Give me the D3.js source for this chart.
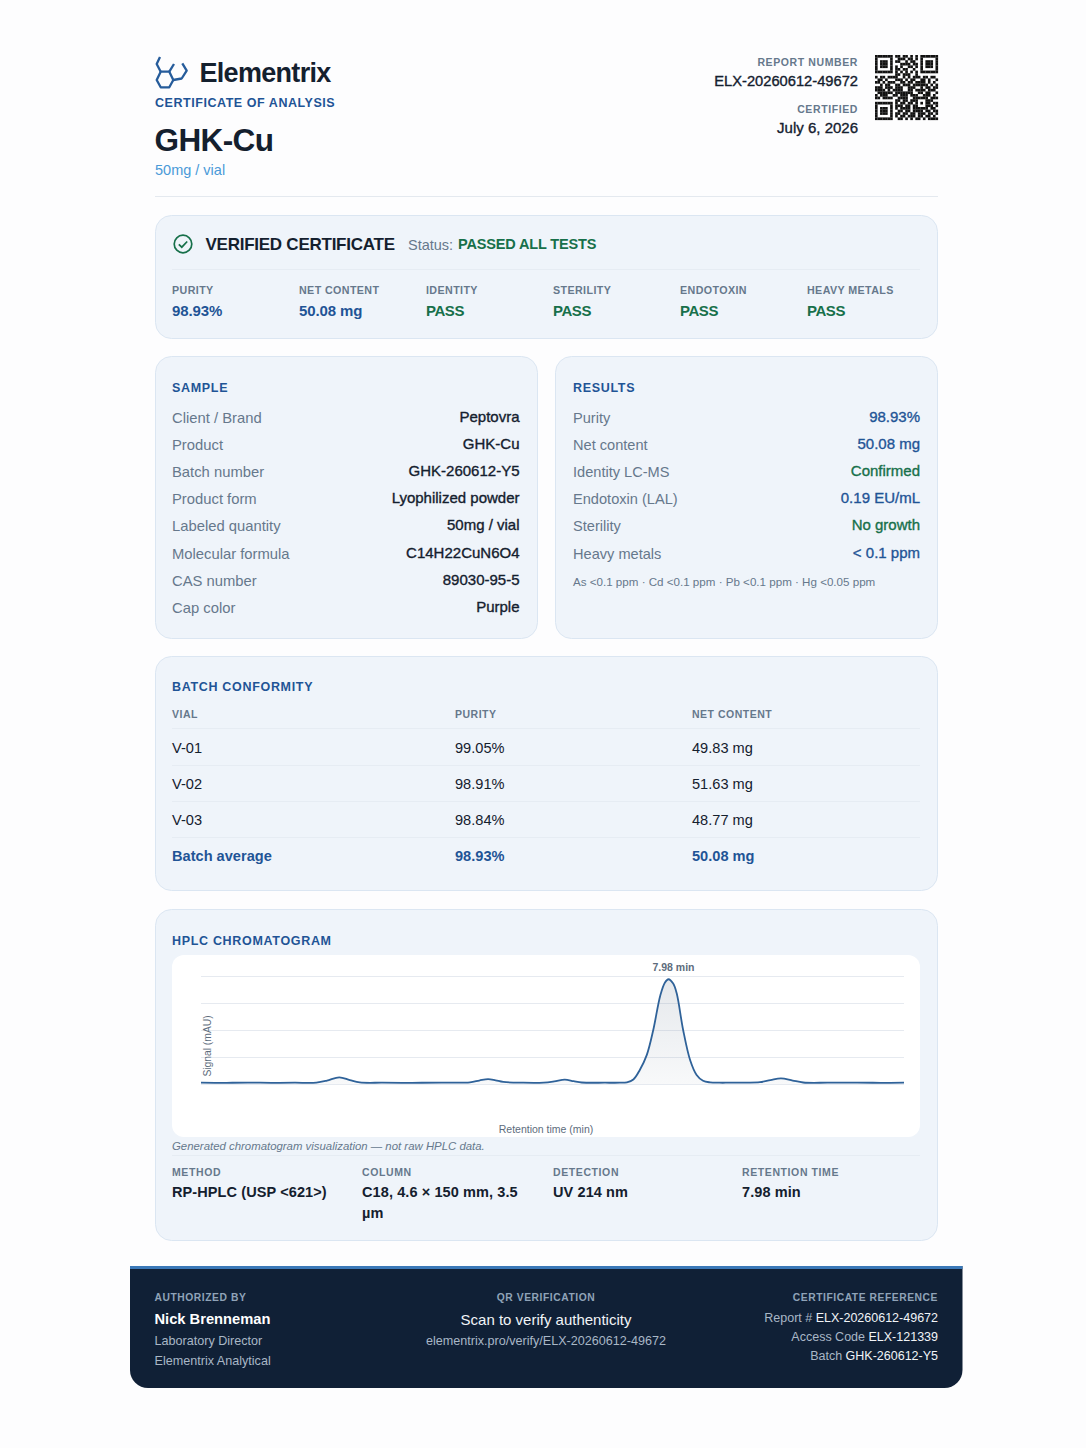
<!DOCTYPE html>
<html>
<head>
<meta charset="utf-8">
<title>GHK-Cu Certificate of Analysis</title>
<script src="https://cdn.jsdelivr.net/npm/d3@7"></script>
<style>
  html, body { margin: 0; padding: 0; background: #fdfdfe; }
  svg { display: block; font-family: "Liberation Sans", Arial, sans-serif; }
</style>
</head>
<body>
<div id="chart"></div>
<script>
const summaryLabels = ['PURITY', 'NET CONTENT', 'IDENTITY', 'STERILITY', 'ENDOTOXIN', 'HEAVY METALS'];
const summaryValues = ['98.93%', '50.08 mg', 'PASS', 'PASS', 'PASS', 'PASS'];

const sampleLabels = ['Client / Brand', 'Product', 'Batch number', 'Product form', 'Labeled quantity', 'Molecular formula', 'CAS number', 'Cap color'];
const sampleValues = ['Peptovra', 'GHK-Cu', 'GHK-260612-Y5', 'Lyophilized powder', '50mg / vial', 'C14H22CuN6O4', '89030-95-5', 'Purple'];

const resultLabels = ['Purity', 'Net content', 'Identity LC-MS', 'Endotoxin (LAL)', 'Sterility', 'Heavy metals'];
const resultValues = ['98.93%', '50.08 mg', 'Confirmed', '0.19 EU/mL', 'No growth', '< 0.1 ppm'];
const resultGreen = ['Confirmed', 'No growth'];

const batchHeaders = ['VIAL', 'PURITY', 'NET CONTENT'];
const batchVials = ['V-01', 'V-02', 'V-03', 'Batch average'];
const batchPurity = ['99.05%', '98.91%', '98.84%', '98.93%'];
const batchContent = ['49.83 mg', '51.63 mg', '48.77 mg', '50.08 mg'];

const retentionTimes = [0, 0.4, 0.8, 1.2, 1.6, 1.97, 2.15, 2.36, 2.54, 2.71, 3.1, 3.6, 4.1, 4.59, 4.75, 4.9, 5.03, 5.16, 5.5, 5.85, 6.03, 6.21, 6.36, 6.5, 6.9, 7.15, 7.27, 7.38, 7.49, 7.61, 7.72, 7.84, 7.92, 7.98, 8.06, 8.12, 8.23, 8.35, 8.46, 8.57, 8.69, 8.85, 9.0, 9.3, 9.54, 9.72, 9.9, 10.1, 10.28, 10.7, 11.2, 11.6, 12];
const signalValues = [1.2, 1.1, 1.3, 1.1, 1.2, 1.3, 3.1, 6.2, 3.7, 1.5, 1.2, 1.1, 1.3, 1.5, 3.2, 4.6, 3.4, 1.9, 1.2, 1.3, 2.4, 4, 2.6, 1.4, 1.2, 1.2, 1.6, 4.2, 13, 27, 50, 82, 94, 97, 93, 84, 50, 22, 8.4, 3, 1.5, 1.2, 1.2, 1.3, 1.7, 3.6, 5.3, 3.2, 1.4, 1.2, 1.3, 1.1, 1.2];
const gridValues = [0, 25, 50, 75, 100];
const peakTime = 7.98;
const peakSignal = 97;

const methodLabels = ['METHOD', 'COLUMN', 'DETECTION', 'RETENTION TIME'];
const methodValues = [['RP-HPLC (USP <621>)'], ['C18, 4.6 × 150 mm, 3.5', 'µm'], ['UV 214 nm'], ['7.98 min']];

const footerRefLabels = ['Report # ', 'Access Code ', 'Batch '];
const footerRefValues = ['ELX-20260612-49672', 'ELX-121339', 'GHK-260612-Y5'];

const qrRows = [
  '1111111011011010101111111',
  '1000001001110110101000001',
  '1011101011001011001011101',
  '1011101000111101101011101',
  '1011101010100110101011101',
  '1000001011011001001000001',
  '1111111010101010101111111',
  '0000000011011100100000000',
  '1011011110010101110110110',
  '0110100011101011001101001',
  '1101011100110110111101010',
  '0010110011011101111110101',
  '1110111011100111001011011',
  '1111010111100110111101110',
  '0111111011111110011011001',
  '1011100110111011100111010',
  '1101111001111001111110111',
  '0000000011011011100011100',
  '1111111010110110101011011',
  '1000001011101101100011101',
  '1011101010111101111110110',
  '1011101001101101111011011',
  '1011101011011011011101101',
  '1000001010110111011011010',
  '1111111001101010110101111'
];

const navy = '#1f5496';
const dark = '#14202e';
const grey = '#66788c';
const label = '#66788c';
const green = '#17704a';

const svg = d3.select('#chart').append('svg').attr('width', 1086).attr('height', 1448);

function text(x, y, str, o = {}) {
  const t = svg.append('text')
    .attr('x', x).attr('y', y)
    .attr('font-size', o.size || 14)
    .attr('font-weight', o.weight || 400)
    .attr('font-style', o.style || null)
    .attr('text-anchor', o.anchor || 'start')
    .attr('letter-spacing', o.ls || null)
    .attr('fill', o.fill || dark)
    .text(str);
  // medium weight, the installed family only has regular and bold
  if (o.medium) t.attr('stroke', o.fill || dark).attr('stroke-width', 0.35);
  return t;
}

function card(x, y, w, h) {
  svg.append('rect')
    .attr('x', x + 0.5).attr('y', y + 0.5).attr('width', w).attr('height', h).attr('rx', 16)
    .attr('fill', '#eff4fa').attr('stroke', '#dbe6f2');
}

function rule(x1, x2, y, color) {
  svg.append('line').attr('x1', x1).attr('x2', x2).attr('y1', y + 0.5).attr('y2', y + 0.5).attr('stroke', color || '#e6ecf3');
}

function cardTitle(x, y, str) {
  text(x, y, str, { size: 12.5, weight: 700, fill: navy, ls: 0.68 });
}

// header
const logo = svg.append('g').attr('fill', 'none').attr('stroke', '#265c9b').attr('stroke-width', 2.3).attr('stroke-linejoin', 'round');
logo.append('path').attr('d', 'M160.7 71.7 L169.3 71.7 L173.3 80 L169.3 87.3 L160.7 87.3 L156.7 80 Z');
logo.append('path').attr('d', 'M160.7 71.7 L156.7 64 L160 57');
logo.append('path').attr('d', 'M169.3 71.7 L174 64');
logo.append('path').attr('d', 'M173.3 80 L181.7 78.5 L186.7 70.7 L182.3 63.3');

text(199.5, 81.5, 'Elementrix', { size: 27, weight: 700, fill: dark, ls: -0.7 });
text(155, 107, 'CERTIFICATE OF ANALYSIS', { size: 12.5, weight: 700, fill: navy, ls: 0.55 });
text(154.5, 150.5, 'GHK-Cu', { size: 31.5, weight: 700, fill: dark, ls: -0.6 });
text(155, 175, '50mg / vial', { size: 14.5, fill: '#4a9ad8' });

text(858, 66, 'REPORT NUMBER', { size: 10.5, weight: 700, fill: label, ls: 0.6, anchor: 'end' });
text(858, 86, 'ELX-20260612-49672', { size: 14.7, fill: dark, anchor: 'end', medium: true });
text(858, 113, 'CERTIFIED', { size: 10.5, weight: 700, fill: label, ls: 0.6, anchor: 'end' });
text(858, 133, 'July 6, 2026', { size: 15, fill: dark, anchor: 'end', medium: true });

const qrScaleX = d3.scaleBand().domain(d3.range(qrRows.length)).range([875, 938]);
const qrScaleY = d3.scaleBand().domain(d3.range(qrRows.length)).range([55, 120]);
qrRows.forEach((row, r) => {
  row.split('').forEach((c, i) => {
    if (c === '1') {
      svg.append('rect').attr('x', qrScaleX(i)).attr('y', qrScaleY(r))
        .attr('width', qrScaleX.bandwidth() + 0.1).attr('height', qrScaleY.bandwidth() + 0.1).attr('fill', '#111');
    }
  });
});

rule(155, 938, 196, '#e4e9ef');

// verified card
card(155, 215, 782, 123);
svg.append('circle').attr('cx', 183).attr('cy', 244).attr('r', 8.8).attr('fill', 'none').attr('stroke', green).attr('stroke-width', 1.7);
svg.append('path').attr('d', 'M178.8 244.3 L181.8 247.2 L187.2 241.5').attr('fill', 'none').attr('stroke', green).attr('stroke-width', 1.7);
text(205.5, 250, 'VERIFIED CERTIFICATE', { size: 17, weight: 700, fill: dark, ls: -0.25 });
text(408, 250, 'Status:', { size: 14.5, fill: grey });
text(458, 249, 'PASSED ALL TESTS', { size: 14.5, weight: 700, fill: green, ls: -0.15 });
rule(172, 920, 269);

const summaryX = d3.scalePoint().domain(summaryLabels).range([172, 807]);
summaryLabels.forEach((d, i) => {
  const pass = summaryValues[i] === 'PASS';
  text(summaryX(d), 294, d, { size: 10.7, weight: 700, fill: label, ls: 0.4 });
  text(summaryX(d), 316, summaryValues[i], { size: 15, weight: 700, fill: pass ? green : navy, ls: pass ? -0.45 : -0.1 });
});

// sample card
card(155, 356, 382, 282);
cardTitle(172, 392, 'SAMPLE');
const sampleY = d3.scalePoint().domain(sampleLabels).range([422.5, 613]);
sampleLabels.forEach((d, i) => {
  text(172, sampleY(d), d, { size: 14.8, fill: grey });
  text(519.5, sampleY(d) - 1, sampleValues[i], { size: 15, fill: dark, anchor: 'end', medium: true });
});

// results card
card(555, 356, 382, 282);
cardTitle(573, 392, 'RESULTS');
const resultY = d3.scalePoint().domain(resultLabels).range([422.5, 558.5]);
resultLabels.forEach((d, i) => {
  text(573, resultY(d), d, { size: 14.6, fill: grey });
  text(920, resultY(d) - 1, resultValues[i], { size: 15, fill: resultGreen.includes(resultValues[i]) ? green : navy, anchor: 'end', medium: true });
});
text(573, 586, 'As <0.1 ppm · Cd <0.1 ppm · Pb <0.1 ppm · Hg <0.05 ppm', { size: 11.6, fill: grey });

// batch conformity
card(155, 656, 782, 234);
cardTitle(172, 691, 'BATCH CONFORMITY');
const batchX = [172, 455, 692];
batchHeaders.forEach((d, i) => text(batchX[i], 718, d, { size: 10.5, weight: 700, fill: label, ls: 0.5 }));
rule(172, 920, 728);
const batchY = d3.scalePoint().domain(batchVials).range([753, 861]);
batchVials.forEach((d, i) => {
  const last = i === batchVials.length - 1;
  const o = { size: 14.6, weight: last ? 700 : 400, fill: last ? navy : dark };
  text(batchX[0], batchY(d), d, o);
  text(batchX[1], batchY(d), batchPurity[i], o);
  text(batchX[2], batchY(d), batchContent[i], o);
  if (!last) rule(172, 920, batchY(d) + 12);
});

// chromatogram
card(155, 909, 782, 331);
cardTitle(172, 945, 'HPLC CHROMATOGRAM');
svg.append('rect').attr('x', 172).attr('y', 955).attr('width', 748).attr('height', 182).attr('rx', 12).attr('fill', '#fff');

const x = d3.scaleLinear().domain([0, 12]).range([201, 904]);
const y = d3.scaleLinear().domain([0, 100]).range([1084, 976]);

const gridAxis = d3.axisLeft(y).tickValues(gridValues).tickSize(-(x(12) - x(0))).tickFormat('');
const gridG = svg.append('g').attr('transform', `translate(${x(0)},0)`).call(gridAxis);
gridG.select('.domain').remove();
gridG.selectAll('.tick line').attr('stroke', '#e6eaf0').attr('stroke-width', 1.2);

const defs = svg.append('defs');
const grad = defs.append('linearGradient').attr('id', 'peakFill').attr('x1', 0).attr('x2', 0).attr('y1', 0).attr('y2', 1);
grad.append('stop').attr('offset', '0%').attr('stop-color', '#6f8195').attr('stop-opacity', 0.18);
grad.append('stop').attr('offset', '100%').attr('stop-color', '#6f8195').attr('stop-opacity', 0.05);

const series = retentionTimes.map((t, i) => ({ t, v: signalValues[i] }));
const curve = d3.curveCatmullRom.alpha(0.5);
svg.append('path').datum(series)
  .attr('fill', 'url(#peakFill)')
  .attr('d', d3.area().x(d => x(d.t)).y0(y(0)).y1(d => y(d.v)).curve(curve));
svg.append('path').datum(series)
  .attr('fill', 'none').attr('stroke', '#2f6299').attr('stroke-width', 1.8)
  .attr('d', d3.line().x(d => x(d.t)).y(d => y(d.v)).curve(curve));

text(x(peakTime) + 5, y(peakSignal) - 8.5, '7.98 min', { size: 10.5, weight: 700, fill: '#5d6c7c', anchor: 'middle' });
text(0, 0, 'Signal (mAU)', { size: 10.3, fill: '#5d6c7c', anchor: 'middle' })
  .attr('transform', 'translate(210.5,1046) rotate(-90)');
text(546, 1132.5, 'Retention time (min)', { size: 10.5, fill: '#5d6c7c', anchor: 'middle' });
text(172, 1149.5, 'Generated chromatogram visualization — not raw HPLC data.', { size: 11.4, style: 'italic', fill: grey });
rule(172, 920, 1155);

const methodX = [172, 362, 553, 742];
methodLabels.forEach((d, i) => {
  text(methodX[i], 1175.5, d, { size: 10.5, weight: 700, fill: label, ls: 0.6 });
  methodValues[i].forEach((line, j) => {
    text(methodX[i], 1197 + j * 21, line, { size: 14.5, weight: 700, fill: dark, ls: 0.1 });
  });
});

// footer
svg.append('path').attr('d', 'M130 1266 H962.5 V1370 a18 18 0 0 1 -18 18 H148 a18 18 0 0 1 -18 -18 Z').attr('fill', '#102036');
svg.append('rect').attr('x', 130).attr('y', 1266).attr('width', 832.5).attr('height', 3).attr('fill', '#3a78b8');

const footHead = { size: 10.3, weight: 700, fill: '#8fa3b8', ls: 0.55 };
text(154.5, 1301, 'AUTHORIZED BY', footHead);
text(154.5, 1324, 'Nick Brenneman', { size: 14.7, weight: 700, fill: '#fff' });
text(154.5, 1345, 'Laboratory Director', { size: 12.6, fill: '#a9b7c6' });
text(154.5, 1364.5, 'Elementrix Analytical', { size: 12.6, fill: '#a9b7c6' });

text(546, 1301, 'QR VERIFICATION', { ...footHead, anchor: 'middle' });
text(546, 1325, 'Scan to verify authenticity', { size: 15, fill: '#f1f4f7', anchor: 'middle' });
text(546, 1345, 'elementrix.pro/verify/ELX-20260612-49672', { size: 12.6, fill: '#a9b7c6', anchor: 'middle' });

text(938, 1301, 'CERTIFICATE REFERENCE', { ...footHead, anchor: 'end' });
footerRefLabels.forEach((d, i) => {
  const t = text(938, 1322 + i * 19, '', { size: 12.5, anchor: 'end' });
  t.append('tspan').attr('fill', '#a9b7c6').text(d);
  t.append('tspan').attr('fill', '#f1f4f7').text(footerRefValues[i]);
});
</script>
</body>
</html>
